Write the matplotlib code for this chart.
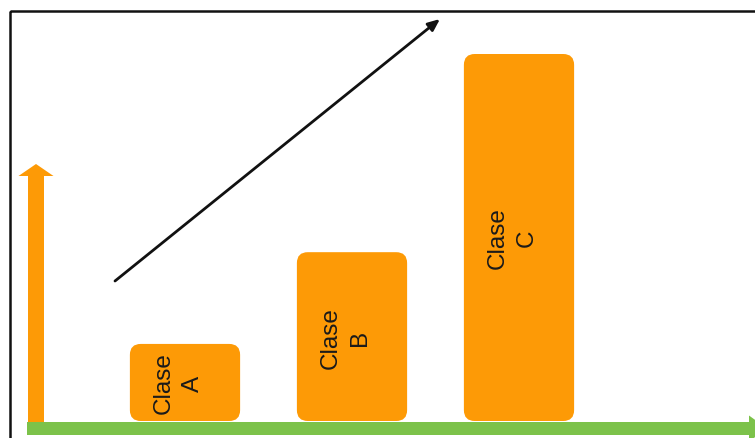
import matplotlib.pyplot as plt
from matplotlib.patches import FancyBboxPatch, FancyArrow, Rectangle

# Classes and their relative size
classes = ['A', 'B', 'C']
values = [2.1, 4.6, 10.0]

bar_color = '#fd9a06'
axis_green = '#7cc24a'

fig = plt.figure(figsize=(7.55, 4.39), dpi=100)
W, H = 755, 439

# overlay in pixel units for the frame and the arrows
deco = fig.add_axes([0, 0, 1, 1])
deco.set_xlim(0, W)
deco.set_ylim(H, 0)
deco.axis('off')

# data axes: baseline sits on the green arrow, x spans the whole width
base_px, top_px = 422, 55
ax = fig.add_axes([0, (H - base_px) / H, 1, (base_px - top_px) / H])
x0, step = 185, 167
ax.set_xlim(-x0 / step, (W - x0) / step)
ax.set_ylim(0, max(values))
ax.axis('off')
ax.patch.set_alpha(0)

# frame around the drawing (open on the right and bottom)
deco.add_patch(Rectangle((10, 12), W, H, fill=False, edgecolor='#111111', lw=1.8, clip_on=False))

# rounded bars
bw = 0.66
px_x = step
px_y = (base_px - top_px) / max(values)
for i, (name, v) in enumerate(zip(classes, values)):
    box = FancyBboxPatch((i - bw / 2, 0), bw, v,
                         boxstyle='round,pad=0,rounding_size=0.065',
                         mutation_aspect=px_x / px_y,
                         facecolor=bar_color, edgecolor='none', zorder=2)
    ax.add_patch(box)
    ax.text(i - 0.04, v / 2, 'Clase\n' + name, rotation=90, ha='center', va='center',
            fontsize=17.5, family='Liberation Sans', color='#1a1a1a',
            linespacing=1.42, zorder=3)

# vertical (orange) axis arrow
deco.add_patch(FancyArrow(36, 424, 0, -259, width=16, head_width=35, head_length=12,
                          length_includes_head=True, color=bar_color, lw=0, zorder=4))
# horizontal (green) axis arrow
deco.add_patch(FancyArrow(27, 429.5, 740, 0, width=13, head_width=26, head_length=18,
                          length_includes_head=True, color=axis_green, lw=0, zorder=5,
                          clip_on=False))

# growth trend arrow
deco.annotate('', xy=(440, 20), xytext=(115, 282),
              arrowprops=dict(arrowstyle='-|>,head_length=0.7,head_width=0.3',
                              color='#111111', lw=2, shrinkA=0, shrinkB=0))

fig.savefig('out.png', dpi=100)
